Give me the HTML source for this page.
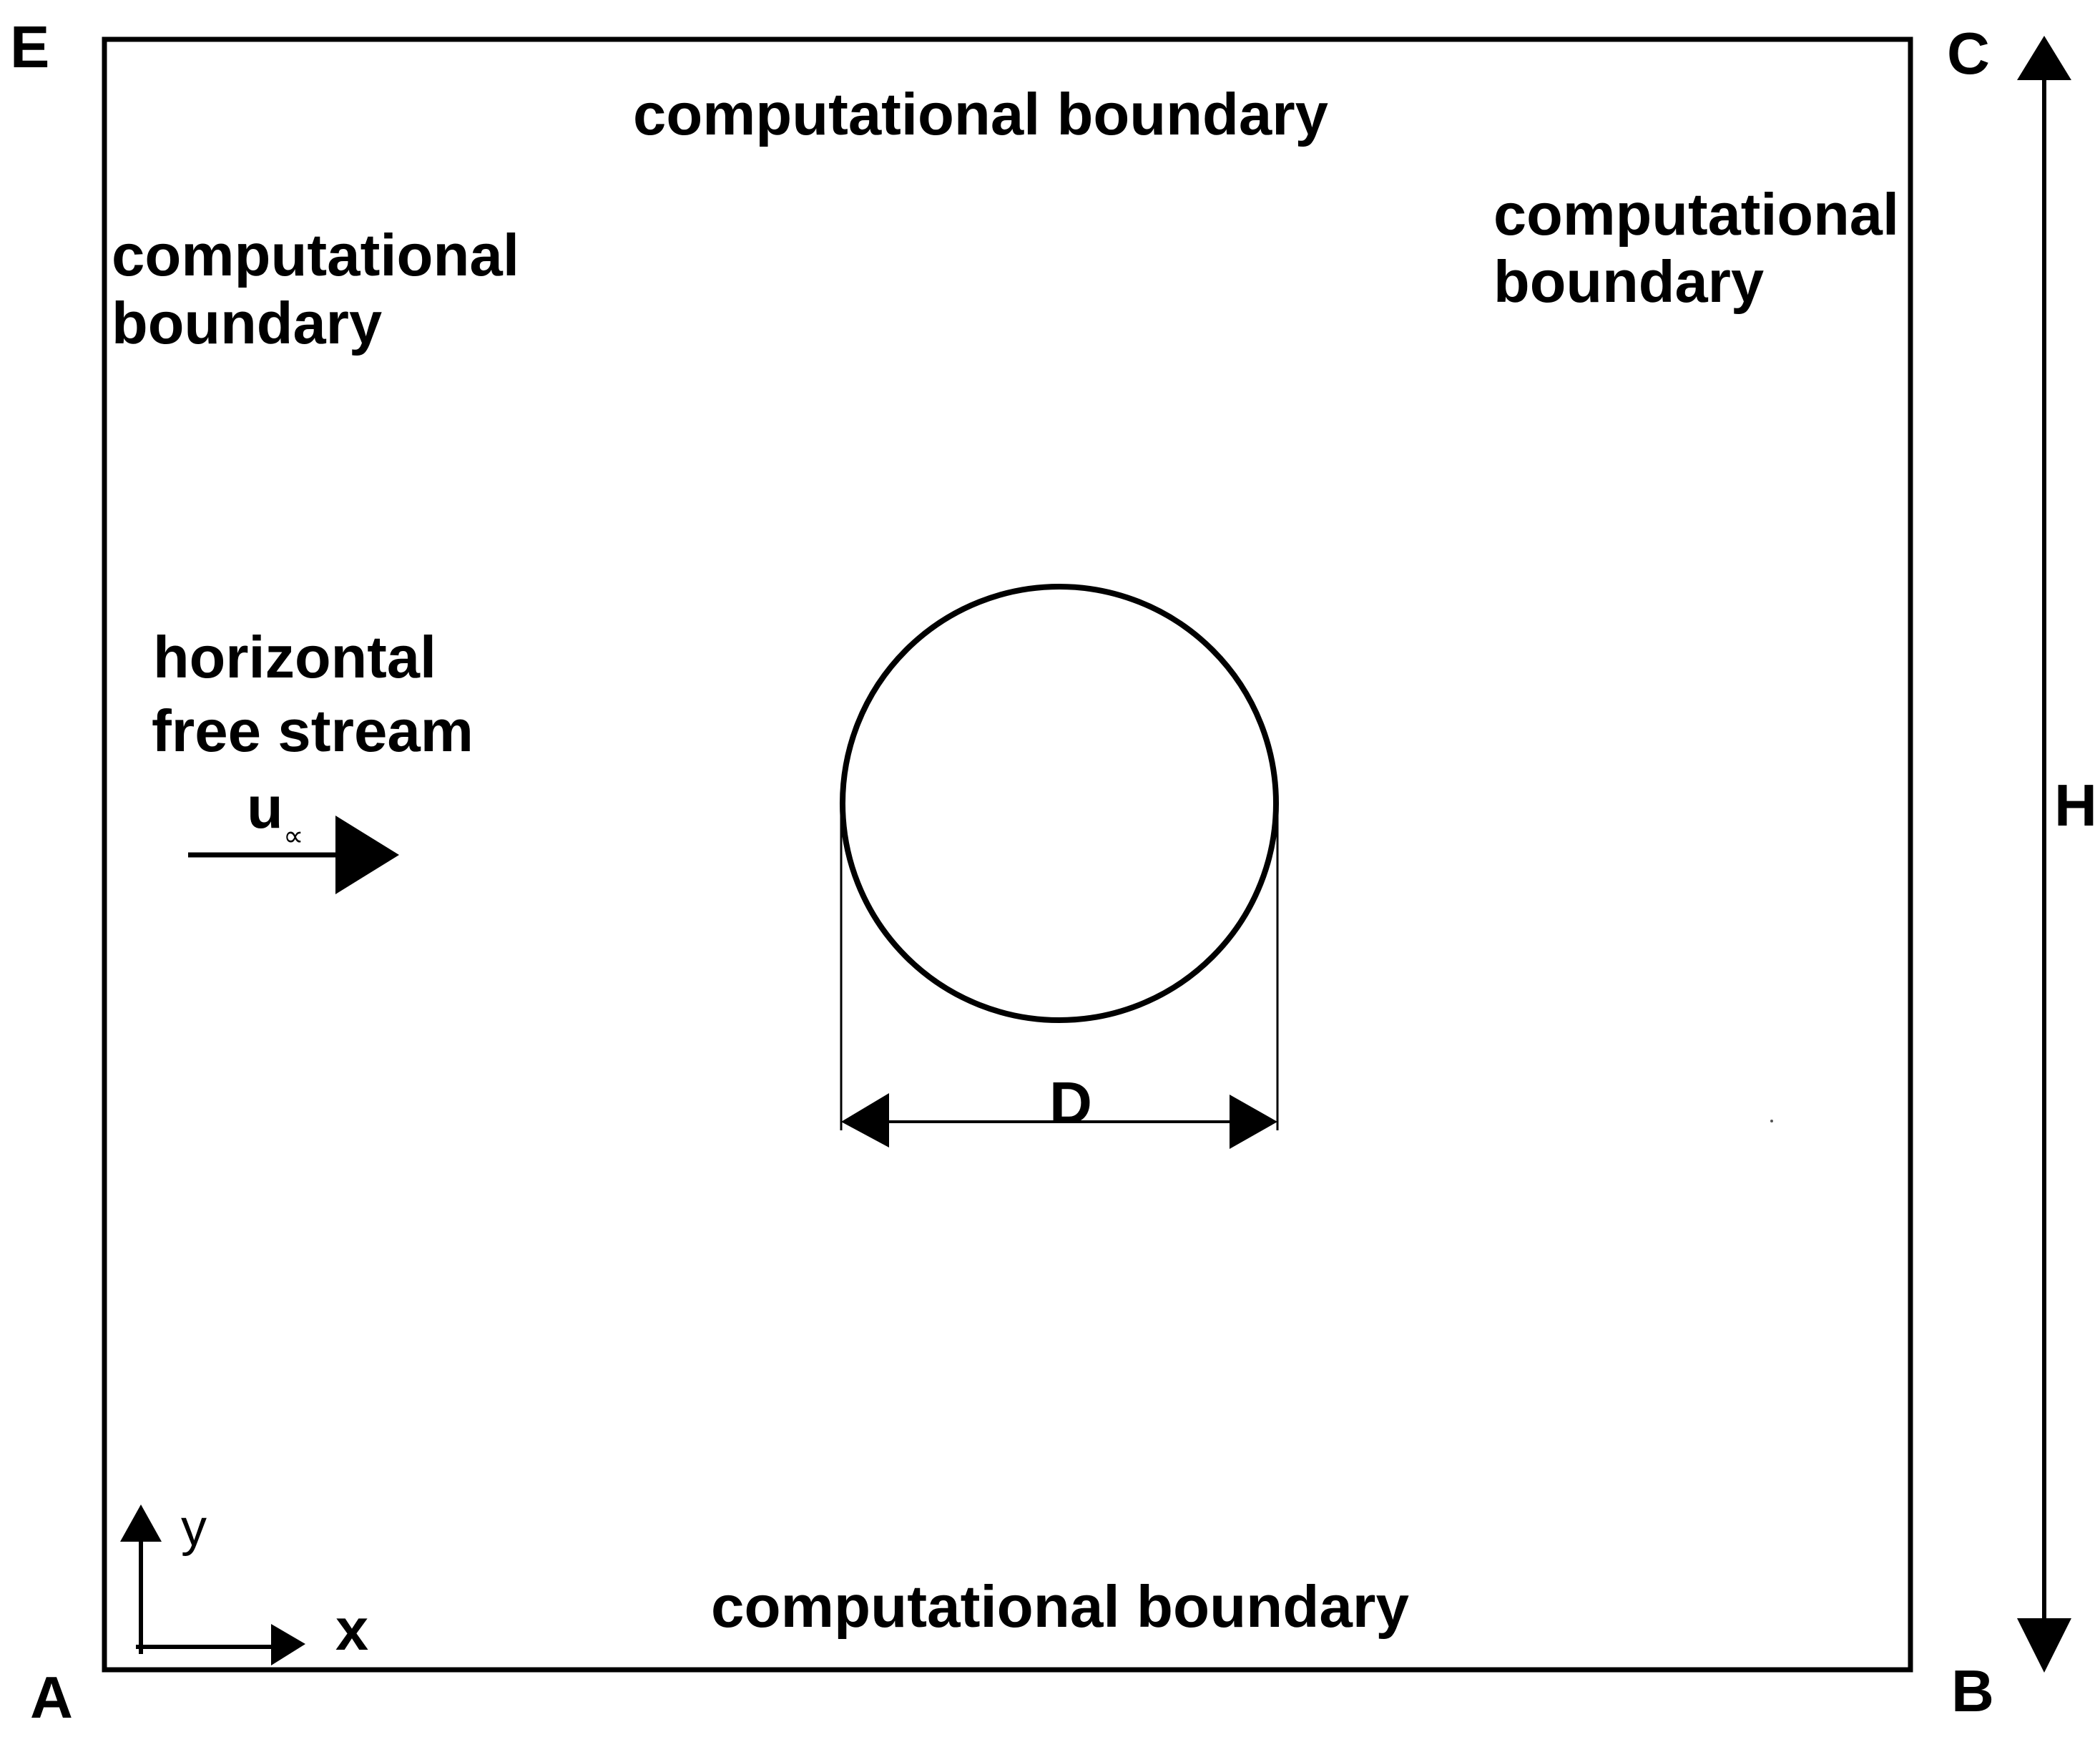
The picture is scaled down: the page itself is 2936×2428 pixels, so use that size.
<!DOCTYPE html>
<html><head><meta charset="utf-8"><style>
html,body{margin:0;padding:0;background:#fff;}
svg{display:block;}
text{font-family:"Liberation Sans",Arial,sans-serif;fill:#000;}
.b{font-weight:bold;font-size:83px;}
</style></head><body>
<svg width="2936" height="2428" viewBox="0 0 2936 2428" xmlns="http://www.w3.org/2000/svg">
<rect x="0" y="0" width="2936" height="2428" fill="#fff"/>
<rect x="146" y="55" width="2525" height="2279" fill="none" stroke="#000" stroke-width="7"/>
<line x1="2858" y1="105" x2="2858" y2="2270" stroke="#000" stroke-width="6"/>
<polygon points="2858,50 2820,112 2896,112" fill="#000"/>
<polygon points="2858,2338 2820,2262 2896,2262" fill="#000"/>
<circle cx="1481" cy="1123" r="303" fill="none" stroke="#000" stroke-width="8"/>
<line x1="1176" y1="1125" x2="1176" y2="1580" stroke="#000" stroke-width="3"/>
<line x1="1786" y1="1125" x2="1786" y2="1580" stroke="#000" stroke-width="3"/>
<line x1="1230" y1="1568" x2="1730" y2="1568" stroke="#000" stroke-width="4"/>
<polygon points="1176,1568 1243,1528 1243,1604" fill="#000"/>
<polygon points="1786,1568 1719,1530 1719,1606" fill="#000"/>
<text class="b" x="1497" y="1570" text-anchor="middle" font-size="78">D</text>
<line x1="263" y1="1195" x2="475" y2="1195" stroke="#000" stroke-width="7"/>
<polygon points="469,1140 558,1195 469,1250" fill="#000"/>
<text class="b" x="345" y="1157" font-size="75">u</text>
<text x="396" y="1182" font-size="40" fill="#444">∝</text>
<line x1="197" y1="2150" x2="197" y2="2312" stroke="#000" stroke-width="6"/>
<line x1="190" y1="2302" x2="385" y2="2302" stroke="#000" stroke-width="6"/>
<polygon points="197,2103 168,2155 226,2155" fill="#000"/>
<polygon points="427,2298 379,2270 379,2328" fill="#000"/>
<text x="253" y="2160" font-size="72">y</text>
<text class="b" x="469" y="2306" font-size="72">x</text>
<text class="b" x="885" y="188" textLength="972" lengthAdjust="spacingAndGlyphs">computational boundary</text>
<text class="b" x="156" y="385" textLength="570" lengthAdjust="spacingAndGlyphs">computational</text>
<text class="b" x="156" y="480">boundary</text>
<text class="b" x="2088" y="328" textLength="567" lengthAdjust="spacingAndGlyphs">computational</text>
<text class="b" x="2088" y="422">boundary</text>
<text class="b" x="994" y="2274" textLength="976" lengthAdjust="spacingAndGlyphs">computational boundary</text>
<text class="b" x="214" y="947" textLength="396" lengthAdjust="spacingAndGlyphs">horizontal</text>
<text class="b" x="212" y="1050" textLength="450" lengthAdjust="spacingAndGlyphs">free stream</text>
<text class="b" x="14" y="94" font-size="78">E</text>
<text class="b" x="2722" y="103" font-size="78">C</text>
<text class="b" x="42" y="2401" font-size="78">A</text>
<text class="b" x="2728" y="2392" font-size="78">B</text>
<text class="b" x="2872" y="1154" font-size="78">H</text>
<circle cx="2477" cy="1567" r="2" fill="#555"/>
</svg>
</body></html>
